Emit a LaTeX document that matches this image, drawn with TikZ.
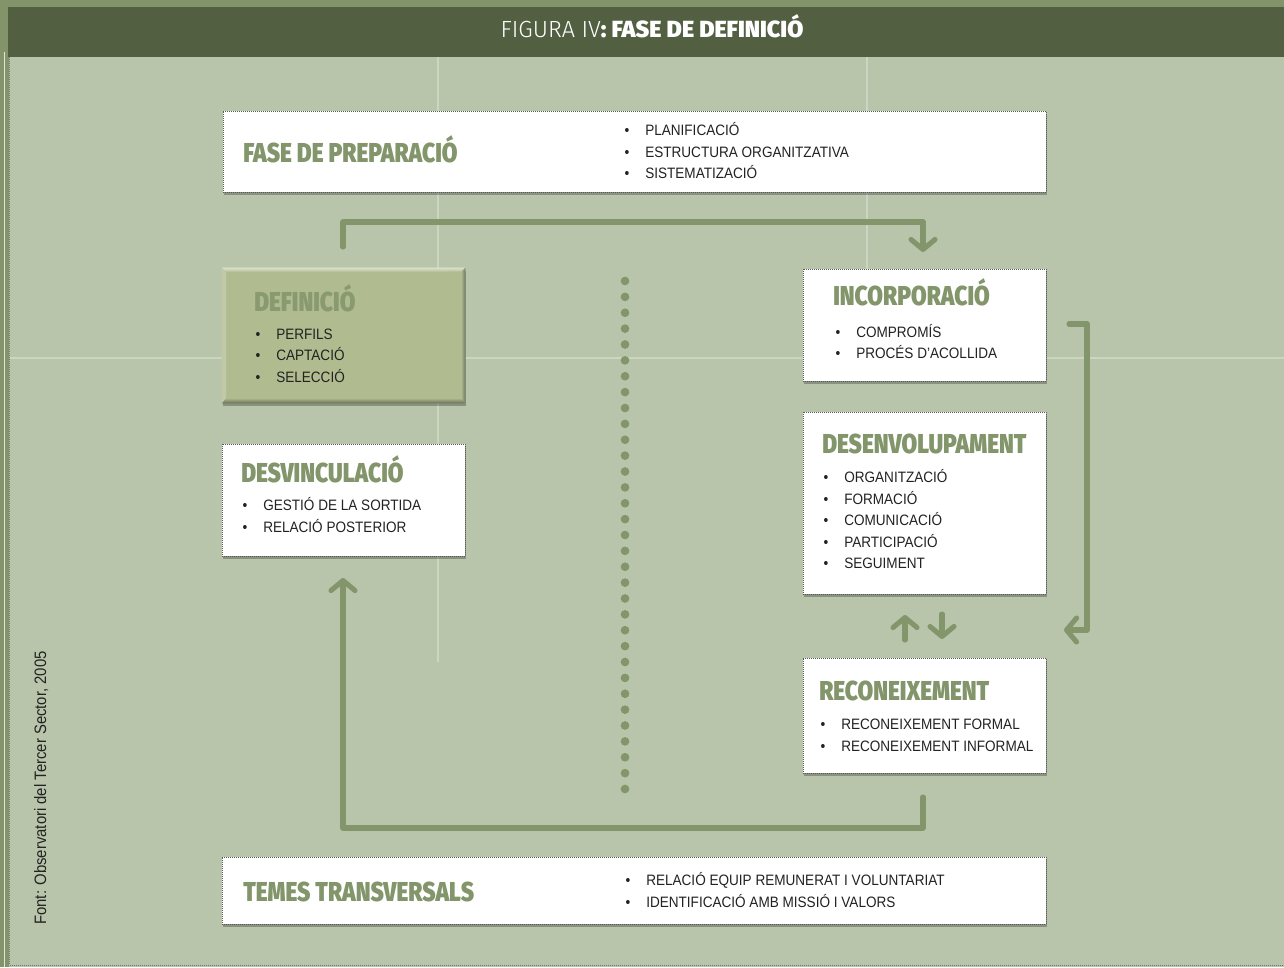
\documentclass[tikz,border=0pt]{standalone}
\usepackage{fontspec}
\setmainfont{Liberation Sans}
\newfontfamily\bodyfont{Liberation Sans}[FakeStretch=0.9]
\newfontfamily\titlefont{Fira Sans}[UprightFont=* Black, FakeStretch=0.83]
\newfontfamily\headbold{Fira Sans}[UprightFont=* Black]
\newfontfamily\lightfont{Fira Sans}[UprightFont=* Light]
\usetikzlibrary{arrows.meta,shadows,fit}
\definecolor{bgcol}{HTML}{B8C5AA}
\definecolor{framecol}{HTML}{83946A}
\definecolor{headcol}{HTML}{525F41}
\definecolor{arrcol}{HTML}{83956A}
\definecolor{titlecol}{HTML}{83956A}
\definecolor{textcol}{HTML}{222222}
\definecolor{deffill}{HTML}{B1BB90}
\definecolor{gridcol}{HTML}{CCD5C2}
\begin{document}
\begin{tikzpicture}[x=0.75pt,y=-0.75pt,
  box/.style={draw=black!65, densely dotted, line width=0.5pt, fill=white, inner sep=0pt,
    drop shadow={shadow xshift=1pt, shadow yshift=-2.5pt, opacity=0.35, fill=black!80}},
  defbox/.style={fill=deffill, inner sep=0pt,
    drop shadow={shadow xshift=1pt, shadow yshift=-2.5pt, opacity=0.35, fill=black!80}},
  ttl/.style={font=\titlefont\fontsize{20.5}{22}\selectfont, text=titlecol, anchor=base west, inner sep=0pt},
  item/.style={font=\bodyfont\fontsize{11.3}{13}\selectfont, text=textcol, anchor=base west, inner sep=0pt},
  bul/.style={font=\bodyfont\fontsize{11.3}{13}\selectfont, text=textcol, anchor=base, inner sep=0pt},
  flow/.style={draw=arrcol, line width=3.8pt, line cap=round, line join=round},
  tip/.style={-{Straight Barb[length=7.5pt,width=18pt,line cap=round,line join=round]}},
  dot/.style={circle, fill=arrcol, inner sep=0pt, minimum size=6.5pt}
]
\useasboundingbox (0,0) rectangle (1284,967);
% background and frame
\fill[bgcol] (0,0) rectangle (1284,967);
\fill[framecol] (0,0) rectangle (1284,7);
\fill[framecol] (0,0) rectangle (9,967);
\draw[white!75!framecol, line width=0.6pt] (4,52) -- (4,967);
\draw[black!55, densely dotted, line width=0.5pt] (9.5,57) -- (9.5,965) -- (1284,965);
\fill[headcol] (8,7) rectangle (1284,57);
\node[anchor=base, text=white, inner sep=0pt] (head) at (652,37)
  {\fontsize{17.5}{19}\selectfont\lightfont FIGURA IV\headbold: FASE DE DEFINICIÓ};
% faint guide lines
\draw[gridcol, line width=0.8pt] (438,57) -- (438,662);
\draw[gridcol, line width=0.8pt] (867,57) -- (867,269);
\draw[gridcol, line width=0.8pt] (10,358) -- (1284,358);
% source
\node[item, rotate=90, font=\bodyfont\fontsize{12.4}{14}\selectfont] (src) at (46,925)
  {Font: Observatori del Tercer Sector, 2005};
% dotted divider
\foreach \i in {0,...,32} \node[dot] (d\i) at (625,{281+15.875*\i}) {};
% boxes
\node[box, fit={(223,111) (1046,192)}] (prep) {};
\node[defbox, fit={(222,268) (465,403)}] (def) {};
\shade[top color=white!55!deffill, bottom color=deffill] (def.north west) -- (def.north east) -- ++(-4,4) -- (226,272) -- cycle;
\shade[left color=deffill, right color=black!35!deffill] (def.north east) -- (def.south east) -- ++(-4,-5) -- (461,272) -- cycle;
\shade[top color=deffill, bottom color=black!40!deffill] (def.south west) -- (def.south east) -- (461,398) -- (226,398) -- cycle;
\fill[white!20!deffill] (def.north west) -- (226,272) -- (226,398) -- (def.south west) -- cycle;
\node[box, fit={(222,444) (465,556)}] (desv) {};
\node[box, fit={(803,269) (1046,381)}] (inc) {};
\node[box, fit={(803,412) (1046,594)}] (desen) {};
\node[box, fit={(803,658) (1046,773)}] (recon) {};
\node[box, fit={(222,857) (1046,924)}] (temes) {};
% titles
\node[ttl] (tprep) at (243,162) {FASE DE PREPARACIÓ};
\node[ttl, text=titlecol!95!white] (tdef) at (254,311) {DEFINICIÓ};
\node[ttl] (tdesv) at (241,482) {DESVINCULACIÓ};
\node[ttl] (tinc) at (833,305) {INCORPORACIÓ};
\node[ttl] (tdesen) at (822,453) {DESENVOLUPAMENT};
\node[ttl] (trecon) at (819,700) {RECONEIXEMENT};
\node[ttl] (ttem) at (243,901) {TEMES TRANSVERSALS};
% bullet lists
\foreach \t [count=\i] in {PLANIFICACIÓ, ESTRUCTURA ORGANITZATIVA, SISTEMATIZACIÓ} {
  \node[bul] (bp\i) at (627,{135.5+21.5*(\i-1)}) {•};
  \node[item] (ip\i) at (645,{135.5+21.5*(\i-1)}) {\t};}
\foreach \t [count=\i] in {PERFILS, CAPTACIÓ, SELECCIÓ} {
  \node[bul] (bd\i) at (258,{339+21.5*(\i-1)}) {•};
  \node[item] (id\i) at (276,{339+21.5*(\i-1)}) {\t};}
\foreach \t [count=\i] in {GESTIÓ DE LA SORTIDA, RELACIÓ POSTERIOR} {
  \node[bul] (bv\i) at (245,{510.5+21.5*(\i-1)}) {•};
  \node[item] (iv\i) at (263,{510.5+21.5*(\i-1)}) {\t};}
\foreach \t [count=\i] in {COMPROMÍS, PROCÉS D’ACOLLIDA} {
  \node[bul] (bi\i) at (838,{337+21.5*(\i-1)}) {•};
  \node[item] (ii\i) at (856,{337+21.5*(\i-1)}) {\t};}
\foreach \t [count=\i] in {ORGANITZACIÓ, FORMACIÓ, COMUNICACIÓ, PARTICIPACIÓ, SEGUIMENT} {
  \node[bul] (be\i) at (826,{482.5+21.5*(\i-1)}) {•};
  \node[item] (ie\i) at (844,{482.5+21.5*(\i-1)}) {\t};}
\foreach \t [count=\i] in {RECONEIXEMENT FORMAL, RECONEIXEMENT INFORMAL} {
  \node[bul] (br\i) at (823,{729.5+21.5*(\i-1)}) {•};
  \node[item] (ir\i) at (841,{729.5+21.5*(\i-1)}) {\t};}
\foreach \t [count=\i] in {RELACIÓ EQUIP REMUNERAT I VOLUNTARIAT, IDENTIFICACIÓ AMB MISSIÓ I VALORS} {
  \node[bul] (bt\i) at (628,{885.5+21.5*(\i-1)}) {•};
  \node[item] (it\i) at (646,{885.5+21.5*(\i-1)}) {\t};}
% connector end points
\coordinate (a1) at (343,247);
\coordinate (a1k1) at (343,222);
\coordinate (a1k2) at (923,222);
\coordinate (a1e) at (923,252);
\coordinate (a2) at (1069,324);
\coordinate (a2k1) at (1087,324);
\coordinate (a2k2) at (1087,630);
\coordinate (a2e) at (1064,630);
\coordinate (a3s) at (905,640);
\coordinate (a3e) at (905,615);
\coordinate (a4s) at (942,614);
\coordinate (a4e) at (942,639);
\coordinate (a5) at (923,797);
\coordinate (a5k1) at (923,828);
\coordinate (a5k2) at (343,828);
\coordinate (a5e) at (343,578);
% connectors
\draw[flow, tip] (a1) -- (a1k1) -- (a1k2) -- (a1e);
\draw[flow, tip] (a2) -- (a2k1) -- (a2k2) -- (a2e);
\draw[flow, tip] (a3s) -- (a3e);
\draw[flow, tip] (a4s) -- (a4e);
\draw[flow, tip] (a5) -- (a5k1) -- (a5k2) -- (a5e);
\end{tikzpicture}
\end{document}
